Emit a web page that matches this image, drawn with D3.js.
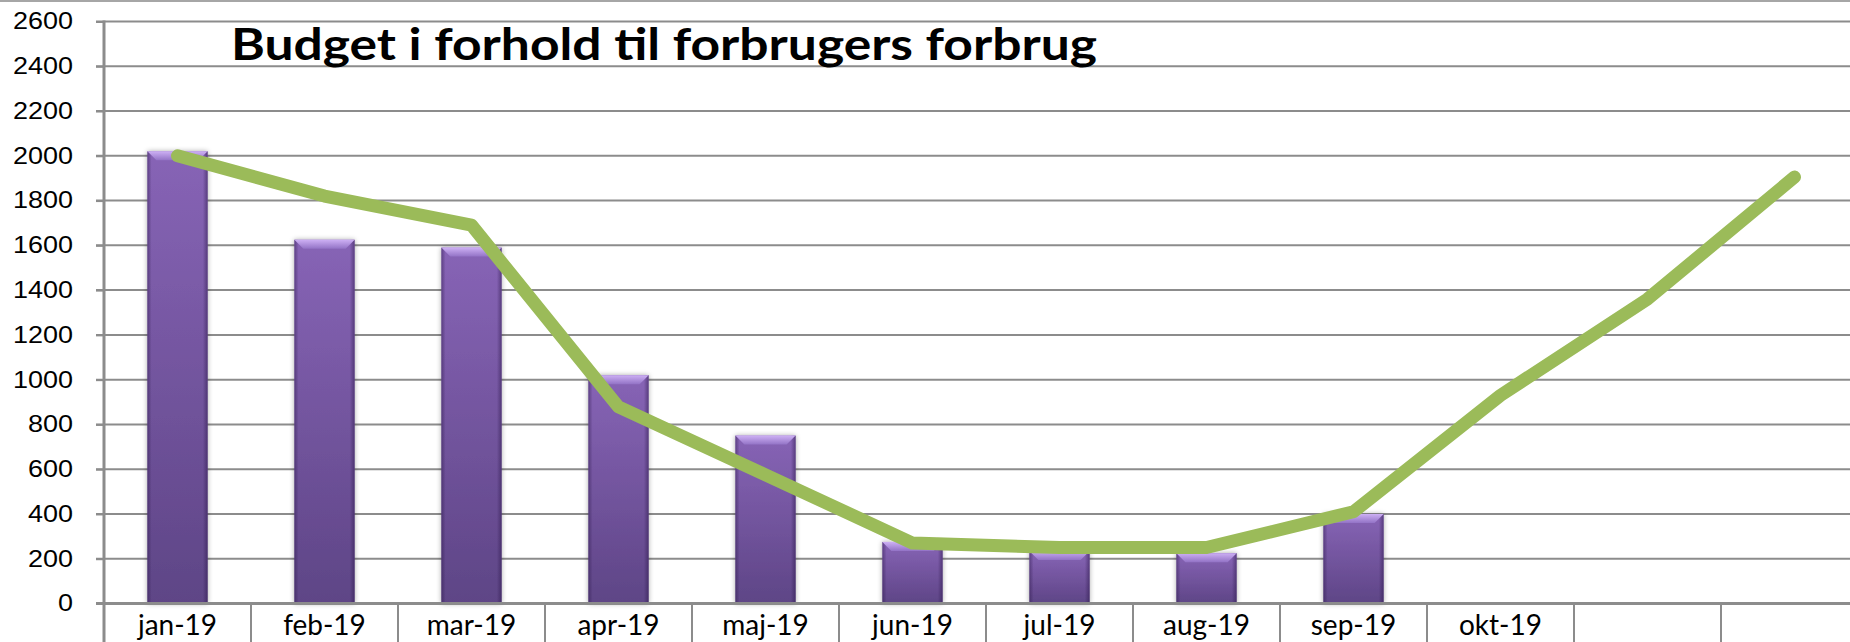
<!DOCTYPE html>
<html>
<head>
<meta charset="utf-8">
<script src="https://cdn.jsdelivr.net/npm/d3@7"></script>
<style>
  html, body { margin: 0; padding: 0; background: #fff; }
  svg { display: block; font-family: Lato, "Open Sans", sans-serif; }
</style>
</head>
<body>
<div id="chart"></div>
<script>
// values
const months = ['jan-19', 'feb-19', 'mar-19', 'apr-19', 'maj-19', 'jun-19',
                'jul-19', 'aug-19', 'sep-19', 'okt-19', 'nov-19', 'dec-19'];
const monthLabels = ['jan-19', 'feb-19', 'mar-19', 'apr-19', 'maj-19', 'jun-19',
                     'jul-19', 'aug-19', 'sep-19', 'okt-19', '', ''];
const forbrug = [2020, 1625, 1590, 1020, 750, 275, 235, 225, 400, null, null, null];
const budget  = [2000, 1820, 1690, 878, 575, 270, 250, 250, 410, 930, 1360, 1905];
const yTicks  = [0, 200, 400, 600, 800, 1000, 1200, 1400, 1600, 1800, 2000, 2200, 2400, 2600];
const title   = 'Budget i forhold til forbrugers forbrug';

const W = 1850, H = 642;
const margin = { top: 21.5, left: 104, bottom: 38.5 };
const bandW = 147;

const svg = d3.select('#chart')
              .append('svg')
              .attr('width', W)
              .attr('height', H);

const defs = svg.append('defs');

const g1 = defs.append('linearGradient').attr('id', 'barGrad')
               .attr('x1', 0).attr('y1', 0).attr('x2', 0).attr('y2', 1);
g1.append('stop').attr('offset', '0%').attr('stop-color', '#8764b6');
g1.append('stop').attr('offset', '100%').attr('stop-color', '#5e4586');

const g2 = defs.append('linearGradient').attr('id', 'barEdge')
               .attr('x1', 0).attr('y1', 0).attr('x2', 1).attr('y2', 0);
g2.append('stop').attr('offset', '0%').attr('stop-color', '#2a1548').attr('stop-opacity', 0.45);
g2.append('stop').attr('offset', '7%').attr('stop-color', '#2a1548').attr('stop-opacity', 0);
g2.append('stop').attr('offset', '92%').attr('stop-color', '#2a1548').attr('stop-opacity', 0);
g2.append('stop').attr('offset', '100%').attr('stop-color', '#2a1548').attr('stop-opacity', 0.5);

const g3 = defs.append('linearGradient').attr('id', 'bevel')
               .attr('x1', 0).attr('y1', 0).attr('x2', 0).attr('y2', 1);
g3.append('stop').attr('offset', '0%').attr('stop-color', '#cdb0f4');
g3.append('stop').attr('offset', '100%').attr('stop-color', '#9373c6');

const shadow = defs.append('filter').attr('id', 'shadow')
                   .attr('x', '-30%').attr('y', '-10%').attr('width', '160%').attr('height', '120%');
shadow.append('feDropShadow').attr('dx', 0).attr('dy', 0).attr('stdDeviation', 2.5)
      .attr('flood-color', '#000').attr('flood-opacity', 0.35);

const x = d3.scaleBand()
            .domain(months)
            .range([margin.left, margin.left + bandW * months.length])
            .padding(0);

const y = d3.scaleLinear()
            .domain([0, 2600])
            .range([H - margin.bottom, margin.top]);

// outer border at the top
svg.append('line')
   .attr('x1', 0).attr('x2', W).attr('y1', 1).attr('y2', 1)
   .attr('stroke', '#a6a6a6').attr('stroke-width', 2);

// gridlines
svg.append('g')
   .selectAll('line')
   .data(yTicks.filter(d => d > 0))
   .enter()
   .append('line')
   .attr('x1', margin.left - 8).attr('x2', W)
   .attr('y1', d => y(d)).attr('y2', d => y(d))
   .attr('stroke', '#8c8c8c').attr('stroke-width', 2);

// y axis
const yAxis = svg.append('g')
   .attr('transform', `translate(${margin.left},0)`)
   .call(d3.axisLeft(y).tickValues(yTicks).tickFormat(d3.format('d')).tickSize(8).tickPadding(23));
yAxis.select('.domain').remove();
yAxis.selectAll('.tick line').attr('stroke', '#8c8c8c').attr('stroke-width', 2);
yAxis.selectAll('.tick text')
     .attr('fill', '#000')
     .attr('text-anchor', 'start')
     .attr('x', d => -31 - String(d).length * 15)
     .style('font-size', '23px')
     .attr('textLength', d => String(d).length * 15)
     .attr('lengthAdjust', 'spacingAndGlyphs');
yAxis.append('line')
     .attr('x1', 0).attr('x2', 0)
     .attr('y1', y(2600) - 1).attr('y2', H)
     .attr('stroke', '#8c8c8c').attr('stroke-width', 3);

// bars
const barW = bandW * 0.41;
const bev = 9;
const bars = svg.append('g')
   .selectAll('g')
   .data(months.map((m, i) => ({ m, v: forbrug[i] })).filter(d => d.v != null))
   .enter()
   .append('g');

bars.append('rect')
    .attr('x', d => x(d.m) + (bandW - barW) / 2)
    .attr('y', d => y(d.v))
    .attr('width', barW)
    .attr('height', d => y(0) - y(d.v))
    .attr('fill', 'url(#barGrad)')
    .attr('filter', 'url(#shadow)');
bars.append('rect')
    .attr('x', d => x(d.m) + (bandW - barW) / 2)
    .attr('y', d => y(d.v))
    .attr('width', barW)
    .attr('height', d => y(0) - y(d.v))
    .attr('fill', 'url(#barEdge)');
bars.append('path')
    .attr('d', d => {
        const x0 = x(d.m) + (bandW - barW) / 2, x1 = x0 + barW, t = y(d.v);
        return `M${x0},${t}L${x1},${t}L${x1 - bev},${t + bev}L${x0 + bev},${t + bev}Z`;
    })
    .attr('fill', 'url(#bevel)');

// x axis
svg.append('line')
   .attr('x1', margin.left - 8).attr('x2', W)
   .attr('y1', y(0)).attr('y2', y(0))
   .attr('stroke', '#8c8c8c').attr('stroke-width', 3);

svg.append('g')
   .selectAll('line')
   .data(months)
   .enter()
   .append('line')
   .attr('x1', d => x(d) + x.bandwidth())
   .attr('x2', d => x(d) + x.bandwidth())
   .attr('y1', y(0)).attr('y2', H)
   .attr('stroke', '#8c8c8c').attr('stroke-width', 2);

svg.append('g')
   .selectAll('text')
   .data(months)
   .enter()
   .append('text')
   .attr('x', d => x(d) + x.bandwidth() / 2)
   .attr('y', 635)
   .attr('text-anchor', 'middle')
   .style('font-size', '28px')
   .attr('fill', '#000')
   .text((d, i) => monthLabels[i]);

// budget line
const line = d3.line()
               .x((d, i) => x(months[i]) + x.bandwidth() / 2)
               .y(d => y(d));

svg.append('path')
   .datum(budget)
   .attr('d', line)
   .attr('fill', 'none')
   .attr('stroke', '#9bbb59')
   .attr('stroke-width', 13)
   .attr('stroke-linecap', 'round')
   .attr('stroke-linejoin', 'round');

// title
svg.append('text')
   .attr('x', 231)
   .attr('y', 60)
   .style('font-size', '44px')
   .style('font-weight', 'bold')
   .attr('textLength', 866)
   .attr('lengthAdjust', 'spacingAndGlyphs')
   .attr('fill', '#000')
   .text(title);
</script>
</body>
</html>
